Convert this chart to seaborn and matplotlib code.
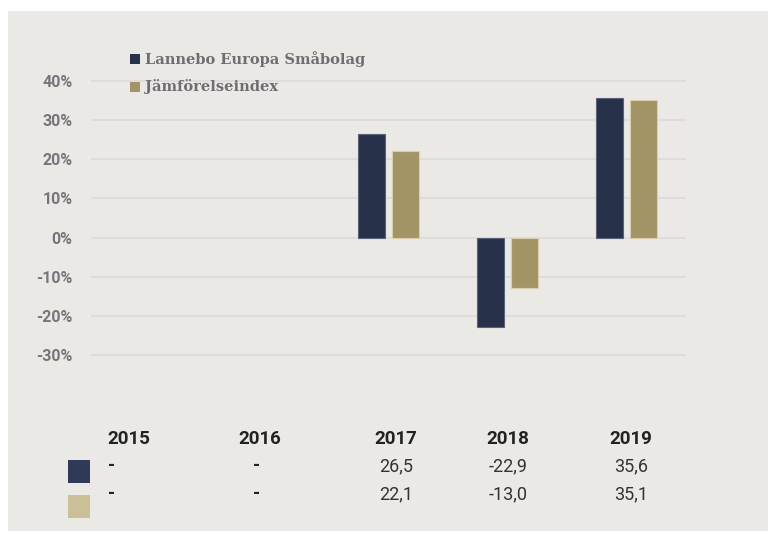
import numpy as np
import pandas as pd
import matplotlib
matplotlib.use("Agg")
import matplotlib.pyplot as plt
from matplotlib.patches import Rectangle
import seaborn as sns

years = ["2015", "2016", "2017", "2018", "2019"]
series_names = ["Lannebo Europa Småbolag", "Jämförelseindex"]
lannebo = [None, None, 26.5, -22.9, 35.6]
index = [None, None, 22.1, -13.0, 35.1]
yticks = [-30, -20, -10, 0, 10, 20, 30, 40]

dark = "#27314a"
gold = "#a39465"
dark_swatch = "#2e3a58"
light_swatch = "#cbbf98"
panel = "#ebe9e5"
label_grey = "#77757b"

W, H = 768, 533


def fx(x):
    return x / W


def fy(y):
    return 1 - y / H


rows = []
for name, vals in zip(series_names, [lannebo, index]):
    for yr, v in zip(years, vals):
        if v is not None:
            rows.append({"year": yr, "series": name, "value": v})
df = pd.DataFrame(rows)

sns.set_theme(style="white")
plt.rcParams["font.family"] = ["Roboto", "DejaVu Sans"]

fig = plt.figure(figsize=(W / 100, H / 100), dpi=100)
fig.patch.set_facecolor("white")
fig.patches.append(Rectangle((fx(8), fy(531)), fx(768 - 8), (531 - 11) / H,
                             transform=fig.transFigure, facecolor=panel,
                             edgecolor="none", zorder=-10))

ax_top, ax_bot = 79.04, 356.96
ax = fig.add_axes([fx(90.8), fy(ax_bot), 595 / W, (ax_bot - ax_top) / H])
ax.set_facecolor("none")
ax.set_zorder(1)

sns.barplot(data=df, x="year", y="value", hue="series", order=years,
            hue_order=series_names, palette=[dark, gold], saturation=1,
            width=0.572, gap=0.206, legend=False, ax=ax, linewidth=0.8)
for cont, ec in zip(ax.containers, ["#5a6278", "#d8cfae"]):
    for p in cont:
        p.set_edgecolor(ec)

ax.set_xlim(-0.5, 4.5)
ax.set_ylim(-30.5, 40.5)
ax.set_yticks(yticks)
ax.set_yticklabels([f"{v}%" for v in yticks], fontsize=11.5, fontweight="bold",
                   color=label_grey)
ax.set_xticks([])
ax.set_xlabel("")
ax.set_ylabel("")
ax.tick_params(axis="y", length=0, pad=13)
for s in ax.spines.values():
    s.set_visible(False)
ax.set_axisbelow(True)
ax.yaxis.grid(True, color="#dedcdd", linewidth=1.5)

# legend
for (y0, col), name in zip([(54, dark), (82, gold)], series_names):
    fig.patches.append(Rectangle((fx(130), fy(y0 + 10)), 10 / W, 10 / H,
                                 transform=fig.transFigure, facecolor=col,
                                 edgecolor="none", zorder=2))
    fig.text(fx(145), fy(y0 + 5), name, fontsize=10.5, fontweight="bold",
             family=["DejaVu Serif"], color="#6f6d72", va="center", ha="left",
             zorder=2)

# table under the chart
year_x = [129, 260, 396, 508, 631]
dash_x = [111.5, 257]
for x, yr in zip(year_x, years):
    fig.text(fx(x), fy(439), yr, fontsize=13.5, fontweight="bold",
             color="#222222", ha="center", va="center")

fig.patches.append(Rectangle((fx(68), fy(483)), 22 / W, 23 / H,
                             transform=fig.transFigure, facecolor=dark_swatch,
                             edgecolor="none", zorder=2))
fig.patches.append(Rectangle((fx(68), fy(518)), 22 / W, 23 / H,
                             transform=fig.transFigure, facecolor=light_swatch,
                             edgecolor="none", zorder=2))

for row_y, vals in zip([466, 494], [lannebo, index]):
    for i, v in enumerate(vals):
        if v is None:
            fig.text(fx(dash_x[i]), fy(row_y), "-", fontsize=13, fontweight="bold",
                     color="#222222", ha="center", va="center")
        else:
            txt = f"{v:.1f}".replace(".", ",")
            fig.text(fx(year_x[i]), fy(row_y), txt, fontsize=13,
                     fontweight="normal", color="#333333", ha="center",
                     va="center")

fig.savefig("out.png", dpi=100)
